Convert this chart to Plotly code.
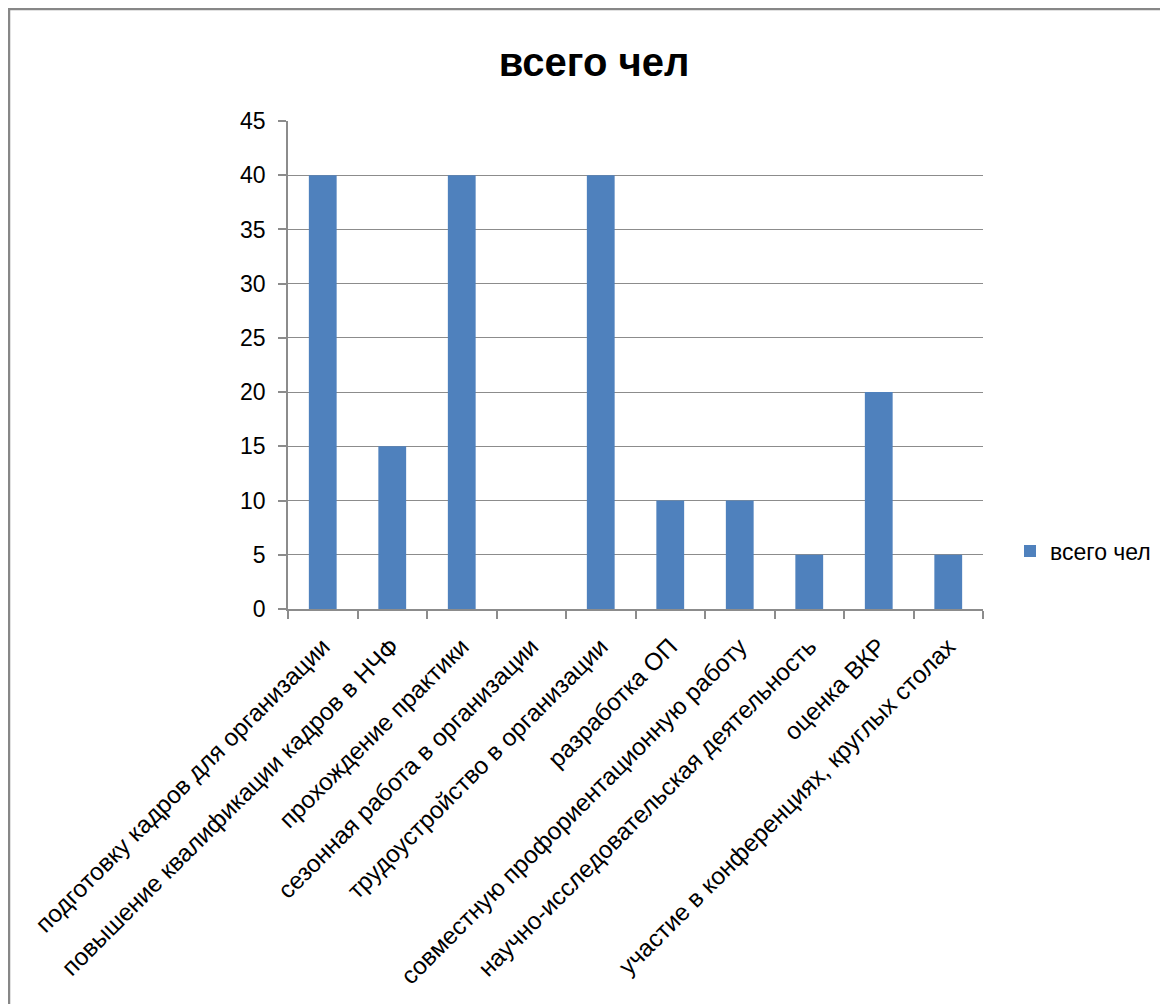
import plotly.graph_objects as go

categories = [
    "подготовку кадров для организации",
    "повышение квалификации кадров в НЧФ",
    "прохождение практики",
    "сезонная работа в организации",
    "трудоустройство в организации",
    "разработка ОП",
    "совместную профориентационную работу",
    "научно-исследовательская деятельность",
    "оценка ВКР",
    "участие в конференциях, круглых столах",
]
values = [40, 15, 40, 0, 40, 10, 10, 5, 20, 5]
series_name = "всего чел"
y_ticks = [0, 5, 10, 15, 20, 25, 30, 35, 40, 45]

# page body has an 8px margin; screen px -> figure px
OFF = 8
W, H = 1168, 1004
L = 288 - OFF
T = 121 - OFF
R = W - (983 - OFF)
B = H - (609 - OFF)
pw = W - L - R
ph = H - T - B

FONT = "Liberation Sans"
GRID = "#8c8c8c"

fig = go.Figure()
fig.add_trace(go.Bar(
    x=categories, y=values, name=series_name,
    marker=dict(color="#4F81BD", line=dict(width=0)),
    showlegend=True,
))

def px_x(x):
    return (x - OFF - L) / pw

def px_y(y):
    return (H - B - (y - OFF)) / ph

fig.update_layout(
    width=W, height=H,
    margin=dict(l=L, r=R, t=T, b=B, autoexpand=False),
    paper_bgcolor="white", plot_bgcolor="white",
    bargap=0.6,
    font=dict(family=FONT, color="black"),
    title=dict(text="<b>всего чел</b>", x=(594 - OFF) / W, xanchor="center",
               y=1 - (62 - OFF) / H, yanchor="middle",
               xref="container", yref="container",
               font=dict(family=FONT, size=40, color="black")),
    xaxis=dict(
        type="category", tickangle=-45, tickfont=dict(size=24.3, color="black"),
        showline=True, linecolor=GRID, linewidth=1.5,
        ticks="outside", tickson="boundaries", ticklen=8, tickcolor=GRID, tickwidth=1.5,
        ticklabelstandoff=12,
        showgrid=False, automargin=False,
    ),
    yaxis=dict(
        range=[0, 45], tickvals=y_ticks, tickfont=dict(size=23, color="black"),
        showline=True, linecolor=GRID, linewidth=1.5,
        ticks="outside", ticklen=8, tickcolor=GRID, tickwidth=1.5,
        ticklabelstandoff=8,
        showgrid=True, gridcolor=GRID, gridwidth=1.2, zeroline=False,
        automargin=False,
    ),
    legend=dict(x=px_x(1010), y=px_y(551), xanchor="left", yanchor="middle",
                font=dict(size=23, color="black"), bgcolor="rgba(0,0,0,0)",
                itemwidth=30),
    shapes=[dict(type="rect", xref="paper", yref="paper",
                 x0=px_x(9), x1=px_x(1300), y0=px_y(1100), y1=px_y(9),
                 line=dict(color="#878787", width=2.5), fillcolor="rgba(0,0,0,0)",
                 layer="above")],
)

fig.write_html("out.html")
